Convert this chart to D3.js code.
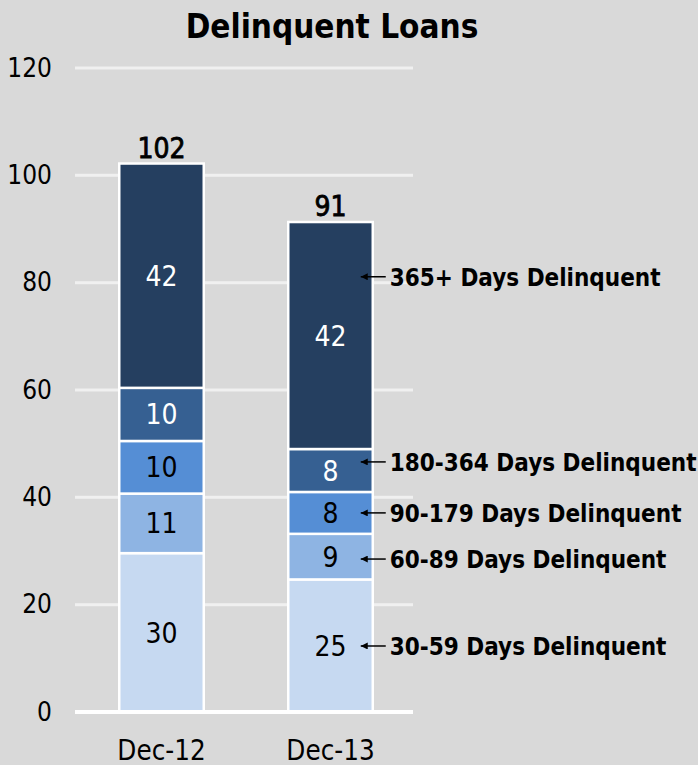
<!DOCTYPE html>
<html>
<head>
<meta charset="utf-8">
<script src="https://cdn.jsdelivr.net/npm/d3@7/dist/d3.min.js"></script>
<style>
  html, body { margin: 0; padding: 0; background: #d9d9d9; }
  svg { display: block; }
  text { font-family: "DejaVu Sans Condensed", "DejaVu Sans", sans-serif; }
</style>
</head>
<body>
<svg id="chart" width="698" height="765"></svg>
<script>
// Delinquent loan balances by age bucket, stacked per period
const categories = ["Dec-12", "Dec-13"];
const seriesNames = [
  "30-59 Days Delinquent",
  "60-89 Days Delinquent",
  "90-179 Days Delinquent",
  "180-364 Days Delinquent",
  "365+ Days Delinquent"
];
const days30to59   = [29.6, 24.7];
const days60to89   = [11.1, 8.5];
const days90to179  = [9.8, 7.8];
const days180to364 = [9.9, 8.0];
const days365plus  = [41.8, 42.3];
const yTicks = [0, 20, 40, 60, 80, 100, 120];
const seriesColors = ["#c6d9f1", "#8eb4e3", "#558ed5", "#366092", "#253f60"];
const labelColors  = ["#000", "#000", "#000", "#fff", "#fff"];
// where each callout arrow points, in axis units (Dec-13 bar)
const calloutAt = [12.3, 28.5, 37.1, 46.6, 81.1];

const FONT = '"DejaVu Sans Condensed", "DejaVu Sans", sans-serif';
const seriesValues = [days30to59, days60to89, days90to179, days180to364, days365plus];
const rows = categories.map((c, i) => {
  const r = { category: c };
  seriesNames.forEach((s, k) => { r[s] = seriesValues[k][i]; });
  return r;
});
const totals = categories.map((c, i) => d3.sum(seriesValues, v => v[i]));

const svg = d3.select("#chart");
const margin = { left: 75, right: 285, top: 68, bottom: 53 };
const W = 698, H = 765;

const x = d3.scaleBand().domain(categories)
  .range([margin.left + 2, W - margin.right + 2])
  .paddingInner(0.5).paddingOuter(0.25);
const y = d3.scaleLinear().domain([0, 120]).range([H - margin.bottom, margin.top]);

// gridlines
svg.append("g").selectAll("line").data(yTicks.filter(t => t > 0)).join("line")
  .attr("x1", margin.left).attr("x2", W - margin.right)
  .attr("y1", d => y(d)).attr("y2", d => y(d))
  .attr("stroke", "#f0f0f0").attr("stroke-width", 3);

// y axis labels
const yAxis = svg.append("g")
  .attr("transform", `translate(${margin.left - 23},0)`)
  .call(d3.axisLeft(y).tickValues(yTicks).tickSize(0).tickPadding(0));
yAxis.select(".domain").remove();
yAxis.selectAll("text").attr("font-size", 26).attr("fill", "#000")
  .style("font-family", FONT);

// stacked bars
const stack = d3.stack().keys(seriesNames)(rows);
const layers = svg.append("g").selectAll("g").data(stack).join("g")
  .attr("fill", (d, i) => seriesColors[i]);
layers.selectAll("rect").data(d => d).join("rect")
  .attr("x", d => x(d.data.category))
  .attr("width", x.bandwidth())
  .attr("y", d => y(d[1]))
  .attr("height", d => y(d[0]) - y(d[1]))
  .attr("stroke", "#fff").attr("stroke-width", 2.5);

// segment value labels
svg.append("g").selectAll("g").data(stack).join("g")
  .attr("fill", (d, i) => labelColors[i])
  .selectAll("text").data(d => d).join("text")
  .attr("x", d => x(d.data.category) + x.bandwidth() / 2)
  .attr("y", d => (y(d[0]) + y(d[1])) / 2)
  .attr("dy", "0.36em")
  .attr("text-anchor", "middle")
  .attr("font-size", 28)
  .text(d => d3.format(".0f")(d[1] - d[0]));

// totals
svg.append("g").selectAll("text").data(categories).join("text")
  .attr("x", d => x(d) + x.bandwidth() / 2)
  .attr("y", (d, i) => y(totals[i]) - 6)
  .attr("text-anchor", "middle")
  .attr("font-size", 28)
  .attr("stroke", "#000").attr("stroke-width", 0.8)
  .text((d, i) => d3.format(".0f")(totals[i]));

// baseline
svg.append("line")
  .attr("x1", margin.left).attr("x2", W - margin.right)
  .attr("y1", y(0)).attr("y2", y(0))
  .attr("stroke", "#fff").attr("stroke-width", 4);

// x axis labels
const xAxis = svg.append("g")
  .attr("transform", `translate(0,${y(0)})`)
  .call(d3.axisBottom(x).tickSize(0).tickPadding(28));
xAxis.select(".domain").remove();
xAxis.selectAll("text").attr("font-size", 27.5).attr("fill", "#000")
  .style("font-family", FONT);

// title
svg.append("text")
  .attr("x", 332).attr("y", 38)
  .attr("text-anchor", "middle")
  .attr("font-size", 33).attr("font-weight", "bold")
  .text("Delinquent Loans");

// callouts for the Dec-13 segments
svg.append("defs").append("marker")
  .attr("id", "arrow").attr("viewBox", "0 0 10 10")
  .attr("refX", 10).attr("refY", 5)
  .attr("markerWidth", 9).attr("markerHeight", 7)
  .attr("markerUnits", "userSpaceOnUse")
  .attr("orient", "auto")
  .append("path").attr("d", "M0,0 L10,5 L0,10 Z").attr("fill", "#000");

const barRight = x("Dec-13") + x.bandwidth();
const callouts = svg.append("g").selectAll("g").data(seriesNames).join("g");
callouts.append("line")
  .attr("x1", barRight + 13).attr("x2", barRight - 12)
  .attr("y1", (d, i) => y(calloutAt[i])).attr("y2", (d, i) => y(calloutAt[i]))
  .attr("stroke", "#000").attr("stroke-width", 1.5)
  .attr("marker-end", "url(#arrow)");
callouts.append("text")
  .attr("x", barRight + 17)
  .attr("y", (d, i) => y(calloutAt[i]))
  .attr("dy", "0.38em")
  .attr("font-size", 24).attr("font-weight", "bold")
  .text(d => d);
</script>
</body>
</html>
